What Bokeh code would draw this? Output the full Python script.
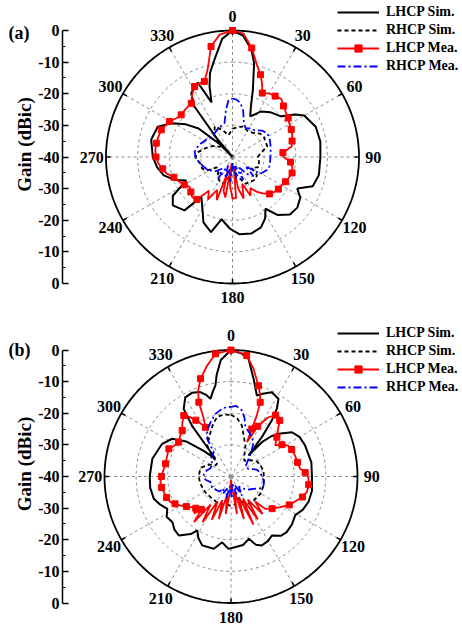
import numpy as np
from bokeh.plotting import figure
from bokeh.models import Range1d, LinearAxis, FixedTicker, Label, Legend, LegendItem
from bokeh.layouts import column
from bokeh.embed import file_html
from bokeh.resources import INLINE
from bokeh.core.properties import value

FONT = "Liberation Serif"

# ---------------- tick / label data ----------------
angle_ticks = [0, 30, 60, 90, 120, 150, 180, 210, 240, 270, 300, 330]
angle_labels = ["0", "30", "60", "90", "120", "150", "180", "210", "240", "270", "300", "330"]
gain_grid = [-30, -20, -10]            # dashed rings (dB)
gain_min = -40                          # centre of the polar plot
gain_axis_labels = ["0", "-10", "-20", "-30", "-40", "-30", "-20", "-10", "0"]
series_names = ["LHCP Sim.", "RHCP Sim.", "LHCP Mea.", "RHCP Mea."]

# ---------------- panel (a) ----------------
a_lhcp_sim_ang = [0, 5, 10, 13, 17, 20, 23.6, 27, 32, 40, 50, 56, 60, 70, 80, 90, 102, 110, 116, 121, 128, 135, 142,
                  147.5, 152, 158, 166, 175, 182, 190, 196, 204, 210, 218, 222, 231, 237, 243, 248, 255, 262, 270,
                  282, 292, 299, 305, 310, 315, 318, 320, 323, 327, 331, 335, 339, 342, 345, 349.5, 355, 360]
a_lhcp_sim_gain = [0, -1.5, -5.5, -9.6, -18, -23, -26, -25, -23, -21.5, -20, -16, -13.8, -12, -11.8, -12.2, -12.1,
                   -13, -17.2, -15, -14, -14.3, -16.7, -20.6, -18, -16, -15.1, -15.5, -17.3, -20, -15.3, -17.4, -21,
                   -24, -17.3, -15.7, -17.5, -23.6, -20.5, -17.5, -16, -14.8, -13.7, -14.5, -18, -22, -26, -34, -40,
                   -32, -20, -16, -14.9, -14, -21.5, -16.5, -12.5, -8.7, -2.5, 0]

a_rhcp_sim_ang = [0, 10, 20, 30, 40, 50, 57, 65, 73, 82, 90, 100, 111, 120, 127, 138, 146, 154, 162, 170, 180, 188,
                  196, 205, 215, 225, 236, 243, 250, 258, 265, 270, 278, 288, 300, 310, 320, 330, 340, 350, 360]
a_rhcp_sim_gain = [-31, -30.5, -29.7, -30.5, -30, -28.5, -28.2, -28.5, -28.5, -31, -32, -31.5, -31.1, -33, -30.3,
                   -30, -30.5, -30.6, -33, -35, -37, -34, -31.5, -31, -32, -33.5, -34, -30.5, -29.7, -29.7, -28.8,
                   -28.3, -29, -31, -33, -35, -31, -28.8, -31, -33, -31]

a_lhcp_mea_ang = [0, 5, 10, 15, 18.8, 22, 25, 30, 35, 40, 45, 50, 55, 60, 65, 70, 75, 80, 85, 90, 95, 100, 105, 110,
                  115, 120, 125, 130, 135, 140, 145, 150, 155, 160, 165, 170, 172.5, 175, 180, 185, 187.5, 190, 195,
                  197.5, 200, 205, 210, 215, 220, 225, 230, 235, 240, 245, 251, 256, 260.4, 265, 270, 275, 280.3, 285,
                  290.9, 295, 299.4, 305, 309.4, 315, 322.5, 327, 331.7, 335, 339.6, 344, 349, 354, 360]
a_lhcp_mea_gain = [0, -0.8, -5, -10, -12.5, -15, -17.7, -16.8, -16.5, -16, -17.2, -18, -18.5, -19.2, -19.5, -19.9,
                   -20.5, -21, -24, -23.8, -21.6, -20.8, -20.5, -21, -21.5, -22, -22.3, -22.8, -23.5, -25, -26.5,
                   -28.7, -26.5, -31, -26.4, -30, -37, -27, -26.8, -31, -38, -27, -29, -35, -25.5, -28.5, -24.5, -27,
                   -22.5, -22, -22.8, -23.5, -22.4, -21.5, -20.4, -18.5, -17.6, -16.5, -15.8, -15.5, -15.5, -15.7,
                   -15.9, -16.5, -17.1, -18.5, -19, -18.8, -18.6, -16.5, -14.7, -14.5, -14.5, -11.4, -4.4, -1.1, 0]

a_rhcp_mea_ang = [0, 4, 8.5, 13, 18.5, 25, 32, 40, 48, 55.5, 65, 75, 84, 90, 100, 108, 115, 121, 126, 132, 140, 147,
                  155, 162, 170, 177, 185, 192, 200, 207, 214, 222, 230, 237.6, 245, 255, 264, 270, 278, 286, 293.8,
                  303, 313, 322.9, 333, 340, 346.7, 352, 356, 360]
a_rhcp_mea_gain = [-21.5, -21.8, -22.8, -25, -28.7, -30, -29.3, -29, -27.5, -26.7, -27, -27.5, -27.9, -28, -28,
                   -27.9, -29, -29.7, -35, -31, -33, -36, -32, -37, -33, -38, -32, -36, -33, -37, -32, -35, -33, -32,
                   -31, -30, -29, -28.3, -27.9, -28.5, -29.2, -30, -31, -30.6, -30, -29.5, -29, -25, -22, -21.5]

# ---------------- panel (b) ----------------
b_lhcp_sim_ang = [0, 5, 8.5, 13, 17.7, 21, 25.8, 31.4, 34, 36, 38, 40, 42, 45, 48, 54, 60, 67, 80, 90, 100, 108, 115,
                  121, 128, 135, 140, 145.3, 150, 156, 160, 164, 170, 177, 182, 187.6, 193.4, 202.7, 208, 212, 215,
                  221.5, 227, 232, 238, 243, 248, 254, 262, 270, 282.7, 295.4, 302.7, 308, 313, 318.8, 321, 322.5,
                  325, 330, 335, 340, 343, 345.2, 348, 350.3, 352, 355, 360]
b_lhcp_sim_gain = [0, -1, -2.4, -8.3, -13.1, -12, -10.4, -11.2, -14, -18, -24, -31.4, -25.4, -22, -19.8, -16.2, -15,
                   -14.6, -14.2, -14.4, -14, -14.2, -15, -16.3, -15.5, -15.1, -15.5, -17.3, -16.5, -16.1, -17, -19.5,
                   -18, -17.6, -17.1, -19, -16.5, -16.4, -18, -19.9, -17.8, -15.1, -15.5, -16.5, -16, -17.4, -16,
                   -14.6, -14.2, -14.3, -14.5, -15.9, -17.9, -22, -28, -32.6, -28, -19.7, -13.9, -11.1, -10.8, -11.6,
                   -13, -14.6, -12.5, -10.8, -7.5, -3, 0]

b_rhcp_sim_ang = [0, 6, 12, 17, 25, 32, 40, 50, 60, 70, 80, 90, 105, 120.4, 132, 144.5, 155, 165, 172, 180, 190, 201,
                  212, 224.7, 237, 249.6, 260, 270, 280, 288, 298, 306, 312.6, 318, 322.5, 330, 335.2, 341, 346.9,
                  353, 360]
b_rhcp_sim_gain = [-20.5, -21.5, -23.5, -26.4, -29.2, -32, -33.5, -32, -30.5, -30, -29.6, -29.6, -29.3, -29.2, -29.5,
                   -29.4, -31, -33, -31, -30.8, -31, -30.7, -30.8, -30.8, -30.5, -30.3, -30, -29.8, -30, -30.4, -32,
                   -34, -34, -31, -27.6, -26, -24.6, -22.5, -20.7, -20.3, -20.5]

b_lhcp_mea_ang = [0, 3, 7.4, 11.8, 16.8, 19.5, 21.5, 22.9, 23.6, 25, 28, 32, 36, 37.9, 41, 45, 49.4, 55, 58, 61.7, 66,
                  71.9, 78, 83.6, 87, 91, 96, 101.7, 106, 110, 116, 122, 128, 133.4, 136, 140, 144, 148, 152, 155,
                  159, 163, 167, 171, 175, 180, 184, 188, 192, 196, 200, 204, 208, 212, 216, 219, 222, 225, 228,
                  231.7, 236, 240, 244, 247, 252, 256.9, 261, 265.4, 270, 275, 281, 287, 294, 298, 303.3, 308, 313.3,
                  318, 322.3, 325, 328, 330, 332.6, 334.8, 336.6, 339, 342.7, 347.9, 352.8, 360]
b_lhcp_mea_gain = [0, -0.5, -1.4, -5.2, -10, -12.5, -14.8, -19.1, -23.6, -28, -22, -18, -16, -15.6, -16.5, -19, -20.9,
                   -22.9, -21, -19.4, -19, -18.7, -18.5, -18, -16.5, -15.5, -15.3, -15.5, -16.5, -17.9, -19.5, -21.7,
                   -23.5, -25.1, -29, -24.5, -31, -24, -32, -23.2, -33, -26, -35, -28, -37, -39, -35, -28, -34, -26,
                   -32, -25, -31, -23, -29, -21.4, -26, -23.5, -25, -24.3, -23, -21.6, -20.3, -19.2, -18.6, -18.2,
                   -17.8, -17.6, -18, -18.5, -18.9, -18.8, -18.5, -19.5, -20.2, -19.5, -18.8, -17, -15.6, -17, -19,
                   -20.5, -22.5, -19.8, -14.4, -11, -7.6, -4.1, -0.9, 0]

b_rhcp_mea_ang = [0, 4, 9.3, 13, 15.6, 20, 24.2, 28, 33.3, 40, 48, 56, 66, 75, 84, 90, 98, 105.5, 112, 118.7, 126,
                  134.5, 142, 150, 156, 163, 170, 178, 186, 192, 198, 205, 212, 218, 224.6, 233, 240, 247, 254.5,
                  262, 268, 275, 283, 292, 298, 304, 312, 318, 324.7, 327.7, 333, 339.3, 346.1, 352, 356, 360]
b_rhcp_mea_gain = [-18, -17.6, -18.8, -21, -23.3, -24.5, -25.2, -26, -27, -30, -33, -34.5, -34, -31.5, -30.5, -30.3,
                   -29.5, -29.3, -30, -31.9, -33, -34.5, -36, -33, -37, -34, -38, -33, -37, -33, -36, -34, -35.5,
                   -34, -33.8, -33.5, -33, -33.5, -33.3, -32, -31.4, -31.4, -32, -33, -33, -32.8, -31.5, -31, -30.6,
                   -25.9, -23.5, -21.7, -19.6, -18.5, -18, -18]

# ---------------- helpers ----------------
PX = 126.5 / 40.0            # pixels per dB of radius
W = 462
AXIS_X = 62                  # pixel column of the gain axis line
ROW = 18


def polar(ang, gain):
    r = np.clip(np.asarray(gain, dtype=float) - gain_min, 0, None)
    t = np.radians(np.asarray(ang, dtype=float))
    return r * np.sin(t), r * np.cos(t)


def make_panel(tag, height, cx, cy, series, legend_top, noise_span):
    xr = Range1d(-cx / PX, (W - cx) / PX)
    yr = Range1d(-(height - cy) / PX, cy / PX)
    p = figure(width=W, height=height, x_range=xr, y_range=yr, output_backend="svg",
               toolbar_location=None, x_axis_type=None, y_axis_type=None,
               min_border_left=0, min_border_right=0, min_border_top=0, min_border_bottom=0)
    p.outline_line_color = None
    p.xgrid.visible = False
    p.ygrid.visible = False

    rmax = -gain_min
    ypos = [rmax - 10 * i for i in range(len(gain_axis_labels))]
    minor = [y - 5 for y in ypos[:-1]]
    ax = LinearAxis(ticker=FixedTicker(ticks=ypos, minor_ticks=minor), bounds=(-rmax, rmax),
                    fixed_location=(AXIS_X - cx) / PX,
                    major_label_overrides={y: lab for y, lab in zip(ypos, gain_axis_labels)},
                    major_tick_in=6, major_tick_out=0, minor_tick_in=3, minor_tick_out=0,
                    axis_line_width=1.5, major_tick_line_width=1.5, minor_tick_line_width=1.2,
                    axis_line_color="black", major_tick_line_color="black", minor_tick_line_color="black",
                    major_label_text_font=FONT, major_label_text_font_style="bold",
                    major_label_text_color="black",
                    major_label_text_font_size="16px", major_label_standoff=3)
    p.add_layout(ax, "left")

    th = np.radians(angle_ticks)
    p.segment(x0=0, y0=0, x1=rmax * np.sin(th), y1=rmax * np.cos(th), line_color="#8c8c8c",
              line_dash="3 3", line_width=1)
    tt = np.radians(np.linspace(0, 360, 361))
    for g in gain_grid:
        rr = g - gain_min
        p.line(rr * np.sin(tt), rr * np.cos(tt), line_color="#8c8c8c", line_dash="3 3", line_width=1)
    p.line(rmax * np.sin(tt), rmax * np.cos(tt), line_color="black", line_width=1.8)
    p.segment(x0=(rmax - 1.4) * np.sin(th), y0=(rmax - 1.4) * np.cos(th), x1=rmax * np.sin(th),
              y1=rmax * np.cos(th), line_color="black", line_width=1.5)

    rl = rmax + 4.5
    p.text(x=rl * np.sin(th), y=rl * np.cos(th), text=angle_labels, text_align="center",
           text_baseline="middle", text_font=value(FONT), text_font_style="bold", text_font_size="16px",
           text_color="black")

    (s1a, s1g), (s2a, s2g), (s3a, s3g), (s4a, s4g) = series
    x, y = polar(s1a, s1g)
    r1 = p.line(x, y, line_color="black", line_width=2)
    x, y = polar(s2a, s2g)
    r2 = p.line(x, y, line_color="black", line_width=1.8, line_dash="4 3")
    x, y = polar(s3a, s3g)
    r3 = p.line(x, y, line_color="#ff0000", line_width=1.8)
    a3 = np.asarray(s3a, dtype=float)
    keep = (np.arange(len(a3)) % 2 == 0) & ~((a3 > noise_span[0]) & (a3 < noise_span[1]))
    r3m = p.scatter(x[keep], y[keep], marker="square", size=6, fill_color="#ff0000", line_color="#ff0000")
    x, y = polar(s4a, s4g)
    r4 = p.line(x, y, line_color="#0000ff", line_width=1.8, line_dash="8 3 2 3")

    legend = Legend(items=[LegendItem(label=series_names[0], renderers=[r1]),
                           LegendItem(label=series_names[1], renderers=[r2]),
                           LegendItem(label=series_names[2], renderers=[r3, r3m]),
                           LegendItem(label=series_names[3], renderers=[r4])],
                    location=(337, height - legend_top - 4 * ROW), padding=0, margin=0, spacing=0,
                    border_line_color=None, background_fill_alpha=0, glyph_width=42, glyph_height=ROW,
                    label_standoff=7, label_text_font=FONT, label_text_font_style="bold",
                    label_text_color="black", label_text_font_size="14px", label_height=ROW)
    p.add_layout(legend)

    # panel tag and axis title
    p.add_layout(Label(x=(8 - cx) / PX, y=(cy - tag[1]) / PX, text=tag[0],
                       text_font=FONT, text_font_style="bold", text_font_size="18px", text_color="black",
                       text_baseline="middle", text_align="left"))
    p.add_layout(Label(x=(24 - cx) / PX, y=12.5 / PX, text="Gain (dBic)", angle=np.pi / 2,
                       text_font=FONT, text_font_style="bold", text_color="black",
                       text_font_size="19px", text_baseline="middle", text_align="center"))
    return p


pa = make_panel(("(a)", 32), 318, 232.0, 156.5,
                [(a_lhcp_sim_ang, a_lhcp_sim_gain), (a_rhcp_sim_ang, a_rhcp_sim_gain),
                 (a_lhcp_mea_ang, a_lhcp_mea_gain), (a_rhcp_mea_ang, a_rhcp_mea_gain)], 3.3, (143, 218))
pb = make_panel(("(b)", 31), 309, 230.5, 158.0,
                [(b_lhcp_sim_ang, b_lhcp_sim_gain), (b_rhcp_sim_ang, b_rhcp_sim_gain),
                 (b_lhcp_mea_ang, b_lhcp_mea_gain), (b_rhcp_mea_ang, b_rhcp_mea_gain)], 6.3, (134, 218))

layout = column(pa, pb, spacing=0)
open("out.html", "w").write(file_html(layout, INLINE))
